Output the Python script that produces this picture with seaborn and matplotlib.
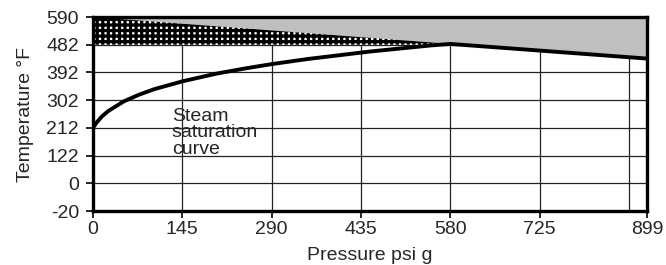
import numpy as np
import matplotlib
matplotlib.use("Agg")
import matplotlib.pyplot as plt
import seaborn as sns

# ── Данные ──
# подписи оси Y (шкала неравномерная: деления стоят через равный шаг)
Y_TICKS = [-20, 0, 122, 212, 302, 392, 482, 590]
X_TICKS = [0, 145, 290, 435, 580, 725, 899]
X_GRID = [145, 290, 435, 580, 725, 870]

# кривая насыщения пара, psi g -> °F
SAT_P = [0, 5, 10, 15, 25, 50, 75, 100, 145, 200, 250, 290, 350, 400, 450, 500, 550, 580, 899]
SAT_T = [212, 227, 239, 250, 267, 298, 320, 338, 363, 388, 406, 419, 436, 448, 460, 470, 480, 485, 437]

# верхняя граница (серая зона)
LIM_P = [0, 599, 899]
LIM_T = [590, 482, 437]

LABEL_X = 128
LABEL_Y = 196

sns.set_style("white")
plt.rcParams["font.family"] = ["Liberation Sans", "DejaVu Sans"]
plt.rcParams["hatch.linewidth"] = 2.3

FS = 14
pos = np.arange(len(Y_TICKS))


def fwd(v):
    return np.interp(v, Y_TICKS, pos)


def inv(p):
    return np.interp(p, pos, Y_TICKS)


fig = plt.figure(figsize=(6.66, 2.65), dpi=100)
ax = fig.add_axes([93 / 666, 54 / 265, 554 / 666, 194 / 265])
ax.set_yscale("function", functions=(fwd, inv))
ax.set_xlim(0, 899)
ax.set_ylim(-20, 590)

# сетка
for t in Y_TICKS[1:-1]:
    ax.axhline(t, color="#222222", lw=0.9, zorder=1)
for g in X_GRID:
    ax.axvline(g, color="#222222", lw=0.9, zorder=1)

# серая зона над границей
ax.fill_between(LIM_P, LIM_T, 590, color="#bfbfc1", lw=0, zorder=2)
# штриховка "белые квадраты на чёрном" между 482 и границей
ax.fill_between(LIM_P[:2], 482, LIM_T[:2], facecolor="white", edgecolor="black",
                hatch="+++", lw=0, zorder=3)

sns.lineplot(x=SAT_P, y=SAT_T, color="black", linewidth=2.8, sort=False, ax=ax, zorder=4)

ax.text(LABEL_X, LABEL_Y, "Steam\nsaturation\ncurve", fontsize=FS, va="center",
        ha="left", linespacing=0.98, zorder=5)

ax.set_yticks(Y_TICKS)
ax.set_yticklabels([str(t) for t in Y_TICKS])
ax.set_xticks(X_TICKS)
ax.set_xticklabels([str(t) for t in X_TICKS])
ax.minorticks_off()
ax.tick_params(axis="both", labelsize=FS, length=5, width=1.2, direction="out",
               color="black")
ax.tick_params(axis="y", pad=5)
ax.tick_params(axis="x", pad=2)
ax.tick_params(left=True, bottom=True)

for s in ax.spines.values():
    s.set_linewidth(2.4)
    s.set_color("black")
    s.set_zorder(6)

ax.set_xlabel("Pressure psi g", fontsize=FS, labelpad=7)
ax.set_ylabel("Temperature °F", fontsize=FS, labelpad=9)

fig.savefig("out.png", dpi=100)
